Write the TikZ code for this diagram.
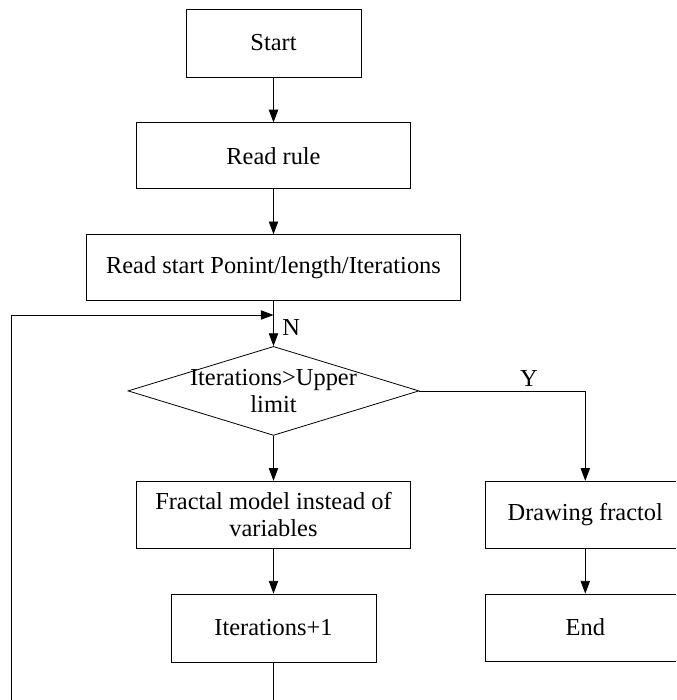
\documentclass[tikz,border=0pt]{standalone}
\usepackage{fontspec}
\setmainfont{Liberation Serif}
\usetikzlibrary{arrows.meta}
\usetikzlibrary{positioning}
\usetikzlibrary{shapes.geometric}

\begin{document}
\begin{tikzpicture}[font=\fontsize{18.3pt}{20pt}\selectfont, node distance=33.75pt]
  \tikzset{process/.style={rectangle, draw, line width=0.6pt,
      align=center, inner sep=0pt}}
  \tikzset{decision/.style={diamond, draw, line width=0.6pt,
      minimum width=218.25pt,
      minimum height=66.75pt,
      inner sep=0pt}}
  \tikzset{to/.style={-{Triangle[length=9.5pt,width=7pt]}, line width=0.6pt}}
  % picture frame, the reference cuts the right box and the loop
  \useasboundingbox (-205.125pt,-492.75pt) rectangle (301.875pt,32.25pt);
  \clip (-205.125pt,-492.75pt) rectangle (301.875pt,32.25pt);
  \node[process, minimum width=131.25pt, minimum height=51pt] (start) {Start};
  \node[process, minimum width=205.5pt, minimum height=49.5pt] (readrule) [below=of start] {Read rule};
  \node[process, minimum width=280.5pt, minimum height=49.5pt] (readstart) [below=of readrule] {Read start Ponint/length/Iterations};
  \node[decision, label={[align=center]center:{Iterations>Upper\\limit}}] (check) [below=of readstart] {};
  \node[process, minimum width=205.5pt, minimum height=50.25pt] (fractal) [below=of check] {Fractal model instead of\\variables};
  \node[process, minimum width=153.75pt, minimum height=51pt] (iter) [below=of fractal] {Iterations+1};
  \node[process, minimum width=150pt, minimum height=50.25pt] (drawing) [right=55.5pt of fractal] {Drawing fractol};
  \node[process, minimum width=150pt, minimum height=50.25pt] (stop) [below=of drawing] {End};
  \coordinate[below=10.5pt of readstart] (join);
  \coordinate (far) at ([xshift=-56.25pt]readstart.west |- join);
  \coordinate (low) at ([yshift=-45pt]iter.south);
  \draw[to] (start) -- (readrule);
  \draw[to] (readrule) -- (readstart);
  \draw[to] (readstart) -- node[pos=0.6,right,xshift=3pt]{N} (check);
  \draw[to] (check.east) -| node[pos=0.33,above]{Y} (drawing.north);
  \draw[to] (check) -- (fractal);
  \draw[to] (fractal) -- (iter);
  \draw[to] (drawing) -- (stop);
  \draw[to] (iter.south) -- (low) -| (far) -- (join);
\end{tikzpicture}
\end{document}
